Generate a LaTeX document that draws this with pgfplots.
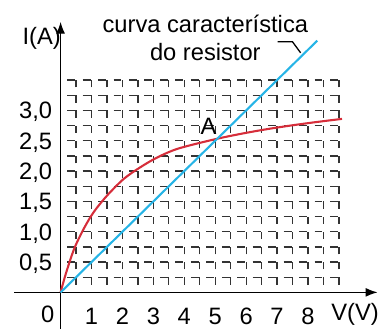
\documentclass[border=0pt]{standalone}
\usepackage{fontspec}
\setmainfont{Liberation Sans}
\usepackage{pgfplots}
\pgfplotsset{compat=1.18}
\usetikzlibrary{arrows.meta}
\definecolor{curvered}{RGB}{214,45,58}
\definecolor{lineblue}{RGB}{38,180,230}
\begin{document}
\begin{tikzpicture}
  \begin{axis}[
      x=31.2bp, y=61.2bp,
      xmin=-1.5, xmax=10.25,
      ymin=-0.6, ymax=4.46,
      axis lines=middle,
      axis line style={line width=1.3bp, -{Latex[length=12bp,width=9bp]}},
      xtick={1,...,8},
      ytick={0.5,1,1.5,2,2.5,3},
      tick style={draw=none},
      font=\fontsize{24}{28}\selectfont,
      xticklabel style={anchor=base, yshift=-30bp},
      yticklabel style={anchor=base east, xshift=-3bp, yshift=-8.6bp},
      /pgf/number format/.cd, use comma, fixed, fixed zerofill, precision=1,
      assume math mode=true,
      /pgfplots/.cd,
      xticklabel={\pgfmathprintnumber[precision=0,fixed zerofill=false]{\tick}},
      clip=false,
    ]
    % bounding box of the picture
    \path (axis cs:-1.96,-0.605) rectangle (axis cs:10.29,4.82);
    % dashed grid
    \pgfplotsinvokeforeach{0.25,0.5,0.75,1,1.25,1.5,1.75,2,2.25,2.5,2.75,3,3.25,3.5}{
      \draw[black!80, line width=1.3bp, dash pattern=on 8bp off 7.6bp, dash phase=9bp]
        (axis cs:0,#1) -- (axis cs:9,#1);
    }
    \pgfplotsinvokeforeach{0.5,1,1.5,2,2.5,3,3.5,4,4.5,5,5.5,6,6.5,7,7.5,8,8.5,9}{
      \draw[black!80, line width=1.3bp, dash pattern=on 7.5bp off 7.8bp, dash phase=7.5bp]
        (axis cs:#1,0) -- (axis cs:#1,3.5);
    }
    % lamp curve
    \addplot[curvered, line width=2.1bp, smooth] coordinates {
        (0,0) (0.17,0.31) (0.44,0.72) (0.76,1.06) (1.08,1.33) (1.51,1.6)
        (2.04,1.87) (2.57,2.06) (3.11,2.22) (3.8,2.37) (5.04,2.53)
        (6.0,2.63) (6.91,2.71) (8.0,2.79) (9.1,2.86)
      };
    % resistor line
    \addplot[lineblue, line width=2.1bp] coordinates {(0,0) (8.3,4.15)};
    \node at (axis cs:-0.61,4.18) {I(A)};
    \node at (axis cs:9.52,-0.36) {V(V)};
    \node at (axis cs:-0.42,-0.36) {0};
    \node at (axis cs:4.78,2.73) {A};
    \node[align=center, inner sep=0pt] at (axis cs:4.68,4.2) {curva característica\\do resistor};
    \draw[line width=1.3bp] (axis cs:7.02,4.13) -- (axis cs:7.5,4.13) -- (axis cs:7.76,3.95);
  \end{axis}
\end{tikzpicture}
\end{document}
